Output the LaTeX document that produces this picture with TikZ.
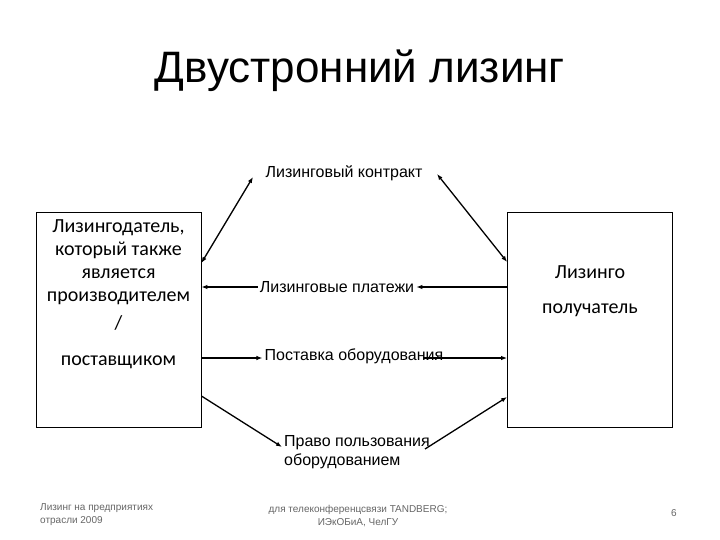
\documentclass[tikz,border=0pt]{standalone}
\usepackage{fontspec}
\setmainfont{Liberation Sans}
\newfontfamily\boxfont{Carlito}
\usetikzlibrary{arrows.meta}
\tikzset{
  party/.style={draw, line width=0.8pt, minimum width=165pt, minimum height=215pt, inner sep=0pt},
  partytext/.style={font=\boxfont\fontsize{20}{23}\selectfont, align=center, inner sep=0pt},
  flowtext/.style={font=\fontsize{16}{19}\selectfont, inner sep=2pt},
  flow/.style={line width=1.3pt, -{Latex[length=6pt,width=4.5pt]}},
  twoway/.style={line width=1.3pt, {Latex[length=6pt,width=4.5pt]}-{Latex[length=6pt,width=4.5pt]}},
  foot/.style={font=\fontsize{10}{13}\selectfont, text=black!60, inner sep=0pt}
}

\begin{document}
\begin{tikzpicture}[x=1pt,y=-1pt]
  \useasboundingbox[fill=white] (0,0) rectangle (720,540);
  % title
  \node (title) at (360,71) {\fontsize{44}{52}\selectfont Двустронний лизинг};
  % parties
  \node[party] (lessor) at (118.5,319.5) {};
  \node[party] (lessee) at (590,319.5) {};
  \node[partytext, anchor=north] (lessortext) at (118.5,219)
    {Лизингодатель,\\ который также\\ является\\ производителем\\[5pt] /\\[13pt] поставщиком};
  \node[partytext] (lesseetop) at (590,272) {Лизинго};
  \node[partytext] (lesseebot) at (590,310) {получатель};
  % flows
  \node[flowtext] (contract) at (344,173) {Лизинговый контракт};
  \node[flowtext] (payments) at (337,287) {Лизинговые платежи};
  \node[flowtext] (supply) at (354,356) {Поставка оборудования};
  \node[flowtext, anchor=west, align=left, inner sep=0pt] (use) at (284,452)
    {Право пользования\\оборудованием};
  \coordinate (cl) at (253,177);
  \coordinate (cr) at (437,174);
  \coordinate (supplyend) at (423,358);
  \coordinate (usein) at (282,447);
  \coordinate (useout) at (425,449);
  \draw[twoway] (cl) -- (lessor.east |- 0,263);
  \draw[twoway] (cr) -- (lessee.west |- 0,262);
  \draw[flow] (lessee.west |- payments) -- (payments.east);
  \draw[flow] (payments.west) -- (lessor.east |- payments);
  \draw[flow] (lessor.east |- 0,358) -- (supply.west |- 0,358);
  \draw[flow] (supplyend) -- (lessee.west |- 0,358);
  \draw[flow] (lessor.east |- 0,396) -- (usein);
  \draw[flow] (useout) -- (lessee.west |- 0,397);
  % footer
  \node[foot, anchor=north west, align=left] (footleft) at (40,503)
    {Лизинг на предприятиях\\отрасли 2009};
  \node[foot, align=center] (footmid) at (358,516)
    {для телеконференцсвязи TANDBERG;\\ИЭкОБиА, ЧелГУ};
  \node[foot] (page) at (674,513) {6};
\end{tikzpicture}
\end{document}
